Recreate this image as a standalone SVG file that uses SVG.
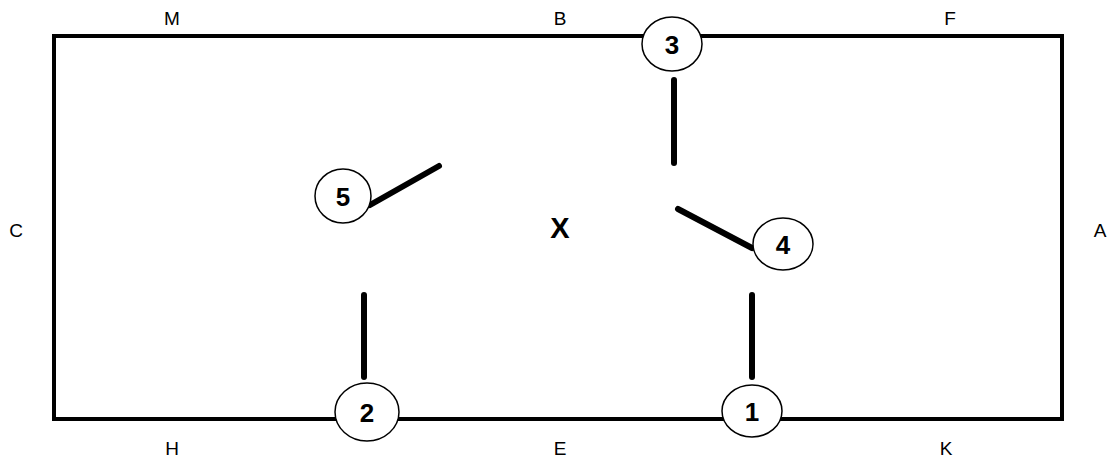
<svg xmlns="http://www.w3.org/2000/svg" width="1110" height="461" viewBox="0 0 1110 461">
<style>
.lbl{font-family:"Liberation Sans",Arial,sans-serif;font-size:19px;fill:#000;text-anchor:middle}
.num{font-family:"Liberation Sans",Arial,sans-serif;font-size:26px;font-weight:bold;fill:#000;text-anchor:middle;dominant-baseline:central}
.node ellipse{fill:#fff;stroke:#000;stroke-width:1.5}
.bar{stroke:#000;stroke-width:6;stroke-linecap:round;fill:none}
</style>
<rect x="54" y="36" width="1008" height="383" fill="none" stroke="#000" stroke-width="4"/>
<g id="connectors">
<line class="bar" x1="674" y1="80" x2="674" y2="163"/>
<line class="bar" x1="370" y1="205" x2="439" y2="166"/>
<line class="bar" x1="678" y1="209" x2="752" y2="248"/>
<line class="bar" x1="364" y1="295" x2="364" y2="377"/>
<line class="bar" x1="752" y1="295" x2="752" y2="377"/>
</g>
<g id="n3" class="node"><ellipse cx="672" cy="44" rx="30" ry="27"/><text class="num" x="672" y="45">3</text></g>
<g id="n5" class="node"><ellipse cx="343" cy="196" rx="28" ry="27"/><text class="num" x="343" y="197">5</text></g>
<g id="n4" class="node"><ellipse cx="783" cy="244" rx="30" ry="26"/><text class="num" x="783" y="245">4</text></g>
<g id="n2" class="node"><ellipse cx="367" cy="412" rx="32" ry="29"/><text class="num" x="367" y="413">2</text></g>
<g id="n1" class="node"><ellipse cx="752" cy="411" rx="30" ry="26"/><text class="num" x="752" y="412">1</text></g>
<g id="labels">
<text class="lbl" x="172" y="25">M</text>
<text class="lbl" x="560" y="25">B</text>
<text class="lbl" x="950" y="25">F</text>
<text class="lbl" x="16" y="237">C</text>
<text class="lbl" x="1100" y="237">A</text>
<text class="lbl" x="172" y="455">H</text>
<text class="lbl" x="560" y="455">E</text>
<text class="lbl" x="946" y="455">K</text>
<text x="560" y="238" style="font-family:'Liberation Sans',Arial,sans-serif;font-size:29px;font-weight:bold;text-anchor:middle">X</text>
</g>
</svg>
